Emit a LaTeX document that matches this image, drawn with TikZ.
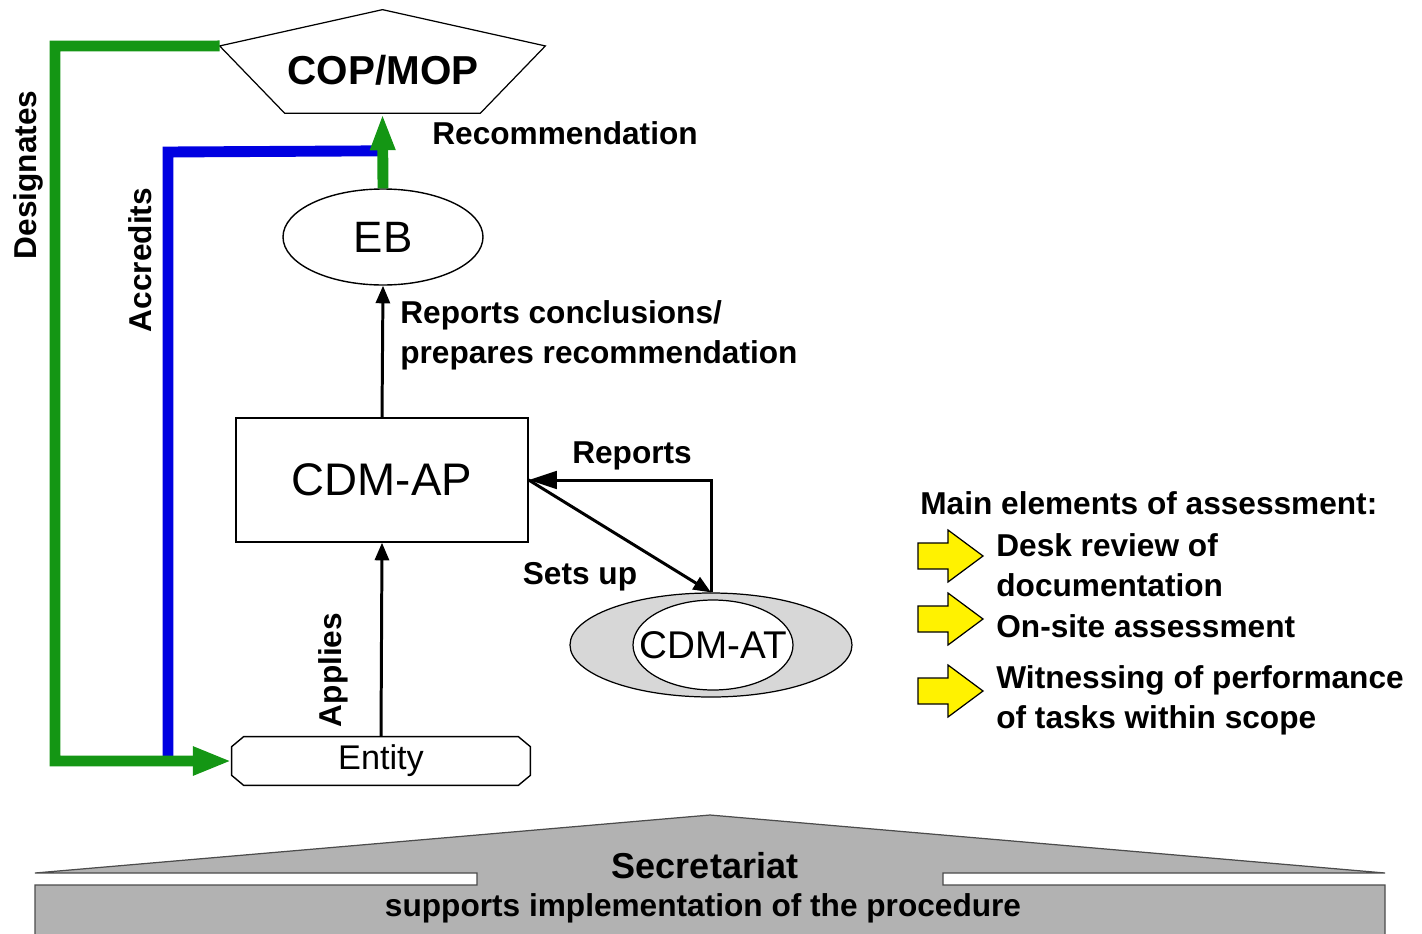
\documentclass[tikz,border=0pt]{standalone}
\usepackage{fontspec}
\setmainfont{Liberation Sans}
\usetikzlibrary{arrows.meta,shapes.geometric,calc}
\definecolor{desgreen}{RGB}{20,150,20}
\definecolor{accblue}{RGB}{0,0,225}
\definecolor{atgray}{RGB}{215,215,215}
\definecolor{secgray}{RGB}{178,178,178}
\begin{document}
\begin{tikzpicture}[x=0.02cm, y=-0.02cm, every node/.style={inner sep=0pt},
    lbl/.style={font=\bfseries\fontsize{18}{22.8}\selectfont},
    unit/.style={draw, line width=0.8pt, font=\fontsize{25}{30}\selectfont},
    blk/.style={line width=1.7pt, -{Triangle[length=10pt, width=8pt]}},
    grn/.style={desgreen, line width=6.2pt},
    yarrow/.style={draw, line width=0.7pt, fill=yellow}]

    \useasboundingbox (0,0) rectangle (1422,933);

    \node[minimum width=325*0.02cm, minimum height=103*0.02cm] (cop) at (382.5,61.5) {};
    \draw[line width=0.7pt] (cop.north) -- ($(cop.north east)!0.35!(cop.south east)$) -- ($(cop.south west)!0.8!(cop.south east)$) -- ($(cop.south west)!0.2!(cop.south east)$) -- ($(cop.north west)!0.35!(cop.south west)$) -- cycle;
    \node[font=\bfseries\fontsize{23}{27}\selectfont] (coptext) at (383,70) {COP/MOP};
    \coordinate (copl) at ($(cop.north west)!0.35!(cop.south west)$);

    \node[unit, ellipse, minimum width=200*0.02cm, minimum height=96*0.02cm] (eb) at (383,237) {EB};

    \node[unit, rectangle, minimum width=292*0.02cm, minimum height=124*0.02cm, font=\fontsize{26}{30}\selectfont] (cdmap) at (382,480) {CDM-AP};

    \node[minimum width=298*0.02cm, minimum height=48*0.02cm, font=\fontsize{19.5}{24}\selectfont] (entity) at (381,761) {Entity};
    \draw[line width=0.8pt] ($(entity.north west)+(12,0)$) -- ($(entity.north east)+(-12,0)$) -- ($(entity.north east)+(0,10)$) -- ($(entity.south east)+(0,-10)$) -- ($(entity.south east)+(-12,0)$) -- ($(entity.south west)+(12,0)$) -- ($(entity.south west)+(0,-10)$) -- ($(entity.north west)+(0,10)$) -- cycle;

    \node[ellipse, draw, line width=0.7pt, fill=atgray, minimum width=282*0.02cm, minimum height=104*0.02cm] (atouter) at (711,645) {};
    \node[ellipse, draw, line width=0.7pt, fill=white, minimum width=160*0.02cm, minimum height=90*0.02cm] (cdmat) at (713,645) {};
    \node[font=\fontsize{22}{26}\selectfont] (cdmattext) at (cdmat) {CDM-AT};

    \coordinate (gtop) at (55,46);
    \coordinate (gbot) at (55,761);
    \coordinate (bstart) at ($(eb.north)!0.5!(cop.south)$);
    \coordinate (btop) at (168,152);
    \coordinate (bbot) at (168,756);

    \draw[accblue, line width=6.2pt] (bstart) -- (btop) -- (bbot);
    \draw[grn, -{Triangle[length=22pt, width=15pt]}] (copl) -- (gtop) -- (gbot) -- (entity.west);
    \draw[grn, -{Triangle[length=21pt, width=13pt]}] (eb.north) -- (cop.south);

    \draw[blk] (cdmap.north) -- (eb.south);
    \draw[blk] (entity.north) -- (cdmap.south);
    \draw[blk] (cdmap.east) -- (atouter.north);
    \draw[line width=1.7pt, -{Triangle[length=16pt, width=10pt]}] (atouter.north) |- (cdmap.east);

    \node[lbl, rotate=90] (designates) at (28,175) {Designates};
    \node[lbl, rotate=90] (accredits) at (140,260) {Accredits};
    \node[lbl, rotate=90] (applies) at (333,670) {Applies};
    \node[lbl, anchor=west] (recomm) at (432,133) {Recommendation};
    \node[lbl, anchor=west, align=left] (concl) at (400,335) {Reports conclusions/\\prepares recommendation};
    \node[lbl] (reports) at (632,456) {Reports};
    \node[lbl] (setsup) at (580,577) {Sets up};

    \node[lbl, anchor=west] (mainel) at (920,503) {Main elements of assessment:};
    \foreach \y in {556,619,691}
        \draw[yarrow] (918,\y-13) -- (948,\y-13) -- (948,\y-26) -- (983,\y) -- (948,\y+26) -- (948,\y+13) -- (918,\y+13) -- cycle;
    \node[lbl, anchor=west, align=left] (desk) at (996,565) {Desk review of\\documentation};
    \node[lbl, anchor=west] (onsite) at (996,626) {On-site assessment};
    \node[lbl, anchor=west, align=left] (witness) at (996,700) {Witnessing of performance\\of tasks within scope};

    \draw[line width=0.7pt, black!70, fill=secgray] (35,873) -- (710,815) -- (1385,873) -- (943,873) -- (943,885) -- (1385,885) -- (1385,940) -- (35,940) -- (35,885) -- (477,885) -- (477,873) -- cycle;
    \node[font=\bfseries\fontsize{20.5}{24}\selectfont] (secr) at (705,866) {Secretariat};
    \node[lbl] (supports) at (703,908) {supports implementation of the procedure};
\end{tikzpicture}
\end{document}
